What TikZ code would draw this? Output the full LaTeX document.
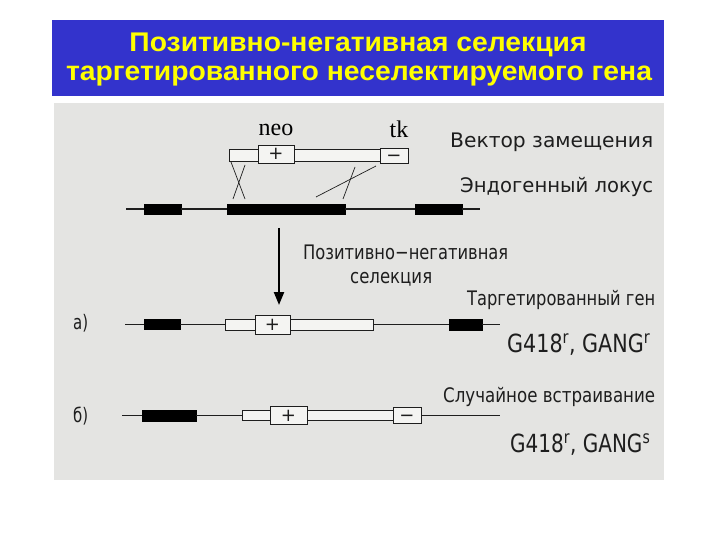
\documentclass[tikz,border=0pt]{standalone}
\usepackage{fontspec}
\setmainfont{DejaVu Sans}
\newfontfamily\titlefont{Liberation Sans}
\newfontfamily\seriffont{Liberation Serif}
\usetikzlibrary{arrows.meta}
\definecolor{titleblue}{RGB}{51,51,204}
\definecolor{titleyellow}{RGB}{255,255,0}
\definecolor{photogray}{RGB}{228,228,226}
\definecolor{ink}{RGB}{30,30,30}
\definecolor{boxfill}{RGB}{244,244,242}
\newcommand{\fitw}[2]{\resizebox{#1}{\height}{#2}}
\begin{document}
\begin{tikzpicture}[x=1pt,y=-1pt,
  dna/.style={draw=ink,line width=1.3pt},
  thindna/.style={draw=ink,line width=0.9pt},
  cross/.style={draw=ink,line width=0.7pt},
  exon/.style={fill=black,draw=black,inner sep=0,minimum height=10pt},
  vecbox/.style={draw=ink,fill=boxfill,line width=0.9pt,inner sep=0},
  lbl/.style={anchor=west,inner sep=0,text=ink,font=\fontsize{20}{22}\selectfont},
  glbl/.style={anchor=west,inner sep=0,text=ink,font=\fontsize{25}{27}\selectfont},
  sym/.style={text=ink,inner sep=0,anchor=base,font=\fontsize{18}{18}\selectfont},
  ttl/.style={inner sep=0,font=\titlefont\bfseries\fontsize{27}{29}\selectfont}]
\useasboundingbox (0,0) rectangle (720,540);
\fill[white] (0,0) rectangle (720,540);
% title
\fill[titleblue] (52,20) rectangle (664,96);
\node[ttl,text=titleyellow] (t1) at (358,45) {\fitw{457pt}{Позитивно-негативная селекция}};
\node[ttl,text=titleyellow] (t2) at (359,76) {\fitw{586pt}{таргетированного неселектируемого гена}};
% photo background
\fill[photogray] (54,103) rectangle (664,480);

% ---- replacement vector
\node[vecbox,minimum width=29pt,minimum height=12pt] (vL) at (243.5,155) {};
\node[vecbox,minimum width=86pt,minimum height=12pt] (vM) at (337,155) {};
\node[vecbox,minimum width=36pt,minimum height=18pt] (vP) at (276,154) {};
\node[vecbox,minimum width=28pt,minimum height=15pt] (vN) at (394,155.5) {};
\node[sym] at ([yshift=-6pt]vP.center) {+};
\node[sym] at ([yshift=-6pt]vN.center) {−};
\node[inner sep=0,font=\seriffont\fontsize{24}{24}\selectfont] (neo) at (276,130) {neo};
\node[inner sep=0,font=\seriffont\fontsize{24}{24}\selectfont] (tk) at (399,129) {tk};

% ---- endogenous locus
\coordinate (L0) at (126,209);
\coordinate (L1) at (480,209);
\node[exon,minimum width=37pt] (le1) at (162.5,209) {};
\node[exon,minimum width=118pt] (le2) at (286,209) {};
\node[exon,minimum width=47pt] (le3) at (438.5,209) {};
\draw[dna] (L0) -- (le1.west);
\draw[dna] (le1.east) -- (le2.west);
\draw[dna] (le2.east) -- (le3.west);
\draw[dna] (le3.east) -- (L1);

% crossover lines
\draw[cross] (231,162) -- (245,199);
\draw[cross] (245,165) -- (233,199);
\draw[cross] (376,166) -- (316,197);
\draw[cross] (355,167) -- (343,199);

% arrow
\coordinate (aTop) at (279,228);
\coordinate (aTip) at (279,305);
\draw[draw=black,line width=2.2pt,-{Triangle[length=13pt,width=10pt]}] (aTop) -- (aTip);

% labels
\node[lbl] (lv) at (450,142) {\fitw{203pt}{Вектор замещения}};
\node[lbl] (ll) at (460,187) {\fitw{193pt}{Эндогенный локус}};
\node[lbl] (ls1) at (303,252) {\fitw{205pt}{Позитивно−негативная}};
\node[lbl] (ls2) at (350,279) {\fitw{82pt}{селекция}};
\node[lbl] (lt) at (467,300) {\fitw{188pt}{Таргетированный ген}};
\node[lbl] (lr) at (443,397) {\fitw{212pt}{Случайное встраивание}};
\node[lbl] (la) at (73,323) {\fitw{15pt}{а)}};
\node[lbl] (lb) at (73,416) {\fitw{15pt}{б)}};
\node[glbl] (g1) at (507,345) {\fitw{143pt}{G418\textsuperscript{r}, GANG\textsuperscript{r}}};
\node[glbl] (g2) at (510,445) {\fitw{140pt}{G418\textsuperscript{r}, GANG\textsuperscript{s}}};

% ---- a) targeted gene (row y = 324.5)
\coordinate (A0) at (125,324.5);
\coordinate (A1) at (500,324.5);
\node[exon,minimum width=36pt] (ae1) at (162,324.5) {};
\node[exon,minimum width=33pt,minimum height=11pt] (ae2) at (465.5,324.5) {};
\node[vecbox,minimum width=30pt,minimum height=11pt] (aL) at (240,324.5) {};
\node[vecbox,minimum width=83pt,minimum height=11pt] (aM) at (331.5,324.5) {};
\node[vecbox,minimum width=35pt,minimum height=19pt] (aP) at (272.5,324.5) {};
\node[sym] at ([yshift=-6pt]aP.center) {+};
\draw[dna] (A0) -- (ae1.west);
\draw[dna] (ae1.east) -- (aL.west);
\draw[dna] (aM.east) -- (ae2.west);
\draw[dna] (ae2.east) -- (A1);

% ---- b) random integration (row y = 415.5)
\coordinate (B0) at (122,415.5);
\coordinate (B1) at (500,415.5);
\node[exon,minimum width=54pt,minimum height=11pt] (be1) at (169,415.5) {};
\node[vecbox,minimum width=28pt,minimum height=10pt] (bL) at (256,415.5) {};
\node[vecbox,minimum width=86pt,minimum height=10pt] (bM) at (350,415.5) {};
\node[vecbox,minimum width=37pt,minimum height=18pt] (bP) at (288.5,415.5) {};
\node[vecbox,minimum width=28pt,minimum height=16pt] (bN) at (407,415.5) {};
\node[sym] at ([yshift=-6pt]bP.center) {+};
\node[sym] at ([yshift=-6pt]bN.center) {−};
\draw[dna] (B0) -- (be1.west);
\draw[thindna] (be1.east) -- (bL.west);
\draw[thindna] (bN.east) -- (B1);
\end{tikzpicture}
\end{document}
